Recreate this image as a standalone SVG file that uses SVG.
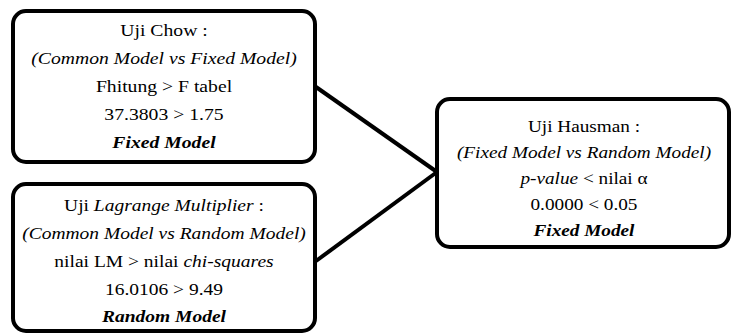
<svg xmlns="http://www.w3.org/2000/svg" width="731" height="333" viewBox="0 0 731 333">
<style>
.box{fill:#fff;stroke:#000;stroke-width:4}
.ln{stroke:#000;stroke-width:4;fill:none}
.t{font-family:'Liberation Serif','Times New Roman',Times,serif;font-size:17.5px;fill:#000;text-anchor:middle}
.i{font-style:italic}
.bi{font-style:italic;font-weight:bold}
</style>
<rect width="731" height="333" fill="#fff"/>
<g id="connectors">
<line class="ln" x1="316" y1="87" x2="437" y2="172"/>
<line class="ln" x1="316" y1="261" x2="437" y2="172"/>
</g>
<g id="chow">
<rect class="box" x="13" y="11" width="302" height="151" rx="13"/>
<g class="t" transform="translate(164,0) scale(1.125,1)">
<text x="0" y="36">Uji Chow :</text>
<text x="0" y="64" class="i">(Common Model vs Fixed Model)</text>
<text x="0" y="92">Fhitung &gt; F tabel</text>
<text x="0" y="120">37.3803 &gt; 1.75</text>
<text x="0" y="148" class="bi">Fixed Model</text>
</g>
</g>
<g id="lm">
<rect class="box" x="13" y="184" width="302" height="147" rx="13"/>
<g class="t" transform="translate(164,0) scale(1.115,1)">
<text x="0" y="211">Uji <tspan class="i">Lagrange Multiplier</tspan> :</text>
<text x="0" y="239" class="i">(Common Model vs Random Model)</text>
<text x="0" y="267">nilai LM &gt; nilai <tspan class="i">chi-squares</tspan></text>
<text x="0" y="295">16.0106 &gt; 9.49</text>
<text x="0" y="322" class="bi">Random Model</text>
</g>
</g>
<g id="hausman">
<rect class="box" x="437" y="99" width="292" height="148" rx="13"/>
<g class="t" transform="translate(584,0) scale(1.1,1)">
<text x="0" y="132">Uji Hausman :</text>
<text x="0" y="158" class="i">(Fixed Model vs Random Model)</text>
<text x="0" y="184"><tspan class="i">p-value</tspan> &lt; nilai α</text>
<text x="0" y="210">0.0000 &lt; 0.05</text>
<text x="0" y="236" class="bi">Fixed Model</text>
</g>
</g>
</svg>
